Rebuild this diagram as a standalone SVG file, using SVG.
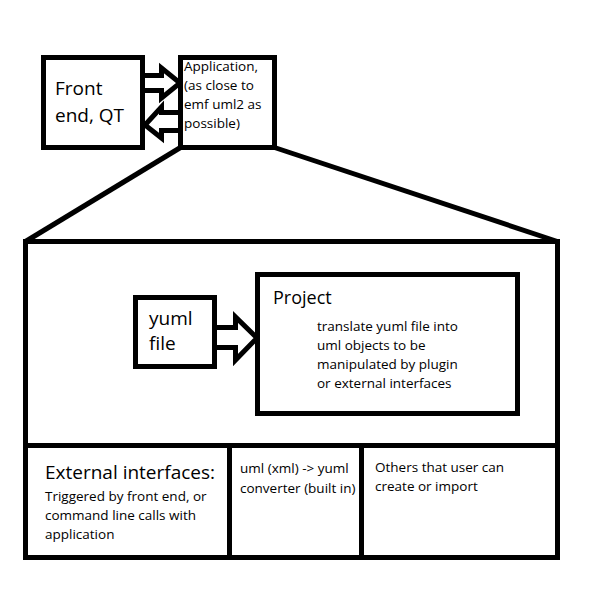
<svg xmlns="http://www.w3.org/2000/svg" width="600" height="594" viewBox="0 0 600 594">
<style>
.box{fill:#fff;stroke:#000;stroke-width:5}
.frame{fill:none;stroke:#000;stroke-width:5}
.ln{fill:none;stroke:#000;stroke-width:5;stroke-linejoin:miter}
.arr{fill:#fff;stroke:#000;stroke-width:5;stroke-linejoin:miter}
text{font-family:"Open Sans","Noto Sans",sans-serif;fill:#000}
.big{font-size:19px}
.sm{font-size:13.5px}
</style>
<rect width="600" height="594" fill="#fff"/>
<g id="application-detail">
<rect class="frame" x="25.5" y="241.5" width="532" height="316"/>
<line class="ln" x1="25.5" y1="445.5" x2="557.5" y2="445.5"/>
<line class="ln" x1="229.5" y1="445.5" x2="229.5" y2="557.5"/>
<line class="ln" x1="361.5" y1="445.5" x2="361.5" y2="557.5"/>
</g>
<g id="connectors">
<polyline class="ln" points="180.5,147.5 25.5,241.5"/>
<polyline class="ln" points="274.5,147.5 557.5,241.5"/>
<path class="arr" d="M143,75.5 H161.5 V68 L180,83 L161.5,98 V90.5 H143"/>
<path class="arr" d="M180,112.5 H161.5 V107 L145,125 L161.5,138 V130.5 H180"/>
<path class="arr" d="M215,327.5 H235.5 V317 L257,338 L235.5,360 V347.5 H215"/>
</g>
<g id="front-end">
<rect class="box" x="43.5" y="57.5" width="99" height="90"/>
<text class="big" x="55" y="95">Front</text>
<text class="big" x="55" y="122">end, QT</text>
</g>
<g id="application">
<rect class="box" x="180.5" y="57.5" width="94" height="90"/>
<text class="sm" x="184" y="71">Application,</text>
<text class="sm" x="184" y="90">(as close to</text>
<text class="sm" x="184" y="109">emf uml2 as</text>
<text class="sm" x="184" y="128">possible)</text>
</g>
<g id="yuml-file">
<rect class="box" x="135.5" y="297.5" width="79" height="69"/>
<text class="big" x="149" y="325">yuml</text>
<text class="big" x="149" y="350">file</text>
</g>
<g id="project">
<rect class="box" x="257.5" y="274.5" width="260" height="139"/>
<text x="273" y="304" style="font-size:18px">Project</text>
<text class="sm" x="317" y="331">translate yuml file into</text>
<text class="sm" x="317" y="350">uml objects to be</text>
<text class="sm" x="317" y="369">manipulated by plugin</text>
<text class="sm" x="317" y="388">or external interfaces</text>
</g>
<g id="external-interfaces">
<text class="big" x="45" y="479">External interfaces:</text>
<text class="sm" x="45" y="501">Triggered by front end, or</text>
<text class="sm" x="45" y="520">command line calls with</text>
<text class="sm" x="45" y="539">application</text>
</g>
<g id="converter">
<text class="sm" x="240" y="473">uml (xml) -&gt; yuml</text>
<text class="sm" x="240" y="493">converter (built in)</text>
</g>
<g id="others">
<text class="sm" x="375" y="472">Others that user can</text>
<text class="sm" x="375" y="491">create or import</text>
</g>
</svg>
